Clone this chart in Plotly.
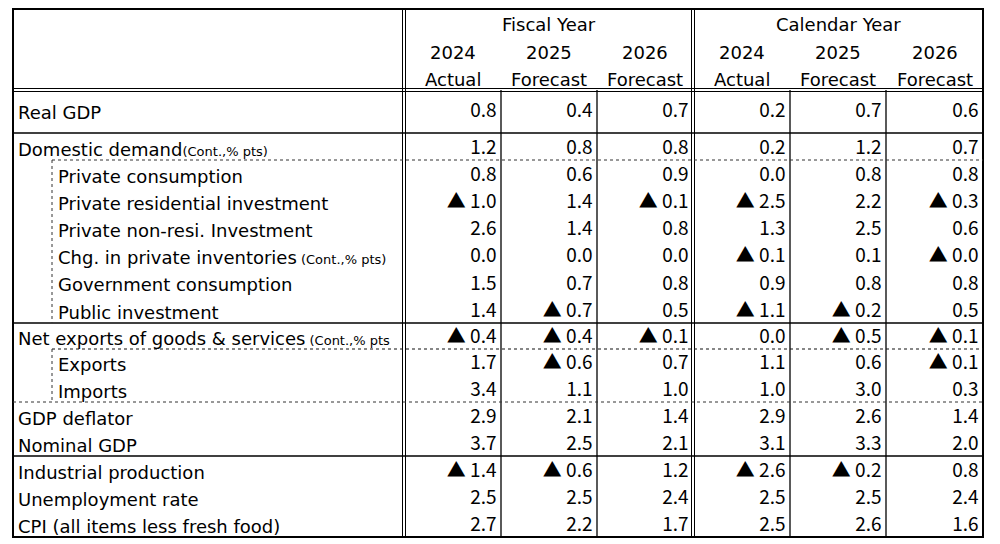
import math
import plotly.graph_objects as go

# ---------------- data ----------------
row_labels = ["Real GDP", "Domestic demand", "Private consumption",
              "Private residential investment", "Private non-resi. Investment",
              "Chg. in private inventories", "Government consumption",
              "Public investment", "Net exports of goods & services", "Exports",
              "Imports", "GDP deflator", "Nominal GDP", "Industrial production",
              "Unemployment rate", "CPI (all items less fresh food)"]
row_notes = ["", "(Cont.,% pts)", "", "", "", " (Cont.,% pts)", "", "",
             " (Cont.,% pts", "", "", "", "", "", "", ""]
row_indent = [0, 0, 1, 1, 1, 1, 1, 1, 0, 1, 1, 0, 0, 0, 0, 0]

group_titles = ["Fiscal Year", "Calendar Year"]
col_years = ["2024", "2025", "2026", "2024", "2025", "2026"]
col_kinds = ["Actual", "Forecast", "Forecast", "Actual", "Forecast", "Forecast"]

fy2024 = [0.8, 1.2, 0.8, -1.0, 2.6, 0.0, 1.5, 1.4, -0.4, 1.7, 3.4, 2.9, 3.7, -1.4, 2.5, 2.7]
fy2025 = [0.4, 0.8, 0.6, 1.4, 1.4, 0.0, 0.7, -0.7, -0.4, -0.6, 1.1, 2.1, 2.5, -0.6, 2.5, 2.2]
fy2026 = [0.7, 0.8, 0.9, -0.1, 0.8, 0.0, 0.8, 0.5, -0.1, 0.7, 1.0, 1.4, 2.1, 1.2, 2.4, 1.7]
cy2024 = [0.2, 0.2, 0.0, -2.5, 1.3, -0.1, 0.9, -1.1, 0.0, 1.1, 1.0, 2.9, 3.1, -2.6, 2.5, 2.5]
cy2025 = [0.7, 1.2, 0.8, 2.2, 2.5, 0.1, 0.8, -0.2, -0.5, 0.6, 3.0, 2.6, 3.3, -0.2, 2.5, 2.6]
cy2026 = [0.6, 0.7, 0.8, -0.3, 0.6, -0.0, 0.8, 0.5, -0.1, -0.1, 0.3, 1.4, 2.0, 0.8, 2.4, 1.6]
columns = [fy2024, fy2025, fy2026, cy2024, cy2025, cy2026]

# ---------------- layout constants (page pixels) ----------------
LABEL_FONT = "DejaVu Sans"
NUM_FONT = "Noto Sans CJK JP"
LEFT, RIGHT, TOP, BOTTOM = 13, 983, 9, 537
HEAD_BOTTOM = 90
LABEL_RIGHT = 404
GROUP_SPLIT = 693
INDENT_X = 52
PAGE_OFF = 8  # default body margin of the page
col_edges = [LABEL_RIGHT, 501, 597, GROUP_SPLIT, 790, 886, RIGHT]
row_edges = [HEAD_BOTTOM, 133, 160, 187.2, 214.3, 241.5, 268.7, 295.8, 323,
             349, 375.5, 402, 429, 456, 483, 510, BOTTOM]


def fmt(v):
    if math.copysign(1.0, v) < 0:
        return "▲ %.1f" % abs(v)
    return "%.1f" % v


def text_y(i):
    if i == 0:
        return (row_edges[0] + row_edges[1]) / 2 + 1
    return row_edges[i + 1] - 11


fig = go.Figure()

# values
for c, vals in enumerate(columns):
    fig.add_trace(go.Scatter(
        x=[col_edges[c + 1] - 4.5] * len(vals),
        y=[text_y(i) for i in range(len(vals))],
        mode="text", text=[fmt(v) for v in vals],
        textposition="middle left",
        textfont=dict(family=NUM_FONT, size=19, color="#000"),
        hoverinfo="skip", showlegend=False, cliponaxis=False))

annotations = []
# row labels
for i, lab in enumerate(row_labels):
    txt = lab
    if row_notes[i]:
        txt += "<span style='font-size:13px'>%s</span>" % row_notes[i]
    annotations.append(dict(
        x=(INDENT_X + 4) if row_indent[i] else LEFT + 3, y=text_y(i),
        xref="x", yref="y", text=txt, showarrow=False,
        xanchor="left", yanchor="middle",
        font=dict(family=LABEL_FONT, size=18, color="#000")))

# headers
group_centers = [(col_edges[0] + col_edges[3]) / 2, (col_edges[3] + col_edges[6]) / 2]
for g, t in enumerate(group_titles):
    annotations.append(dict(x=group_centers[g], y=24, xref="x", yref="y", text=t,
                            showarrow=False, xanchor="center", yanchor="middle",
                            font=dict(family=LABEL_FONT, size=18, color="#000")))
for c in range(6):
    cx = (col_edges[c] + col_edges[c + 1]) / 2
    annotations.append(dict(x=cx, y=52, xref="x", yref="y", text=col_years[c],
                            showarrow=False, xanchor="center", yanchor="middle",
                            font=dict(family=LABEL_FONT, size=18, color="#000")))
    annotations.append(dict(x=cx, y=79, xref="x", yref="y", text=col_kinds[c],
                            showarrow=False, xanchor="center", yanchor="middle",
                            font=dict(family=LABEL_FONT, size=18, color="#000")))

shapes = []


def line(x0, y0, x1, y1, w=1, dash="solid", color="#000"):
    shapes.append(dict(type="line", xref="x", yref="y", x0=x0, y0=y0, x1=x1, y1=y1,
                       line=dict(color=color, width=w, dash=dash)))


# outer border
shapes.append(dict(type="rect", xref="x", yref="y", x0=LEFT, y0=TOP, x1=RIGHT, y1=BOTTOM,
                   line=dict(color="#000", width=2)))
# double lines
for d in (-1.5, 1.5):
    line(LEFT, HEAD_BOTTOM + d, RIGHT, HEAD_BOTTOM + d, 1)
    line(LABEL_RIGHT + d, TOP, LABEL_RIGHT + d, BOTTOM, 1)
    line(GROUP_SPLIT + d, TOP, GROUP_SPLIT + d, BOTTOM, 1)
# single column separators
for xe in (col_edges[1], col_edges[2], col_edges[4], col_edges[5]):
    line(xe, HEAD_BOTTOM, xe, BOTTOM, 1.3)
# solid row separators
for ri in (1, 8, 13):
    line(LEFT, row_edges[ri], RIGHT, row_edges[ri], 1.5)
# dotted separators
line(INDENT_X, row_edges[2], RIGHT, row_edges[2], 1, "dot", "#333")
line(INDENT_X, row_edges[2], INDENT_X, row_edges[8], 1, "dot", "#333")
line(INDENT_X, row_edges[9], RIGHT, row_edges[9], 1.2, "dot", "#111")
line(INDENT_X, row_edges[9], INDENT_X, row_edges[11], 1, "dot", "#333")
line(LEFT, row_edges[11], RIGHT, row_edges[11], 1, "dot", "#333")

fig.update_layout(
    width=1000 - PAGE_OFF, height=544 - PAGE_OFF,
    margin=dict(l=0, r=0, t=0, b=0),
    paper_bgcolor="white", plot_bgcolor="white",
    xaxis=dict(range=[PAGE_OFF, 1000], visible=False, fixedrange=True),
    yaxis=dict(range=[544, PAGE_OFF], visible=False, fixedrange=True),
    shapes=shapes, annotations=annotations, showlegend=False)

fig.write_html("out.html")
